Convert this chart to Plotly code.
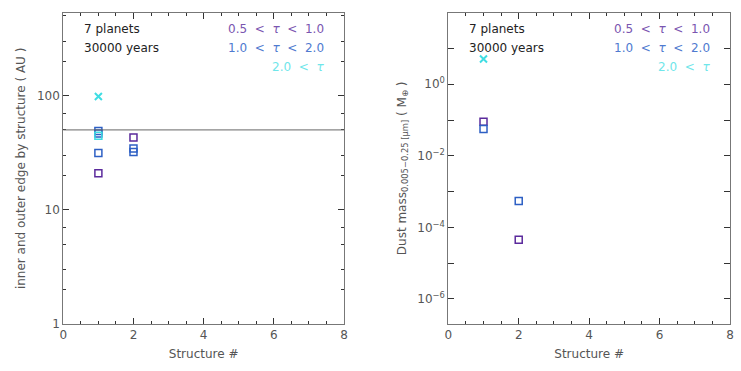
import plotly.graph_objects as go

# ---- data ----
structure_ids = [1, 2]
# left panel: inner/outer edge (AU) per structure, by tau class
edge_purple_x = [1, 2]
edge_purple_y = [20.9, 43.0]
edge_blue_x = [1, 1, 1, 2, 2]
edge_blue_y = [49.0, 46.5, 31.4, 34.3, 32.0]
edge_cyan_sq_x = [1]
edge_cyan_sq_y = [44.5]
edge_cyan_x_x = [1]
edge_cyan_x_y = [98.0]
ref_line_au = 50.0

# right panel: dust mass (M_earth)
mass_purple_x = [1, 2]
mass_purple_y = [0.089, 4.5e-5]
mass_blue_x = [1, 2]
mass_blue_y = [0.056, 5.5e-4]
mass_cyan_x_x = [1]
mass_cyan_x_y = [5.1]

info_lines = ["7 planets", "30000 years"]
S = "&nbsp;"
legend_labels = [f"0.5{S}{S}&lt;{S}{S}<i>τ</i>{S}{S}&lt;{S}{S}1.0",
                 f"1.0{S}{S}&lt;{S}{S}<i>τ</i>{S}{S}&lt;{S}{S}2.0",
                 f"2.0{S}{S}&lt;{S}{S}<i>τ</i>"]

purple = "#5b2a9c"
blue = "#2d5fc4"
cyan = "#3fdde3"
legend_colors = ["#7a55b0", "#4f7ad0", "#6fe6ea"]

FONT = "DejaVu Sans"
W, H = 741, 371
LX = (63.3 / W, 344 / W)
RX = (448.3 / W, 730 / W)
YD = (47 / H, 358.3 / H)

fig = go.Figure()

def sq(x, y, c, xa, ya):
    fig.add_trace(go.Scatter(x=x, y=y, mode="markers", xaxis=xa, yaxis=ya,
                             marker=dict(symbol="square-open", size=7, color=c,
                                         line=dict(width=1.5, color=c)),
                             showlegend=False))

def xm(x, y, c, xa, ya):
    fig.add_trace(go.Scatter(x=x, y=y, mode="markers", xaxis=xa, yaxis=ya,
                             marker=dict(symbol="x-thin-open", size=7, color=c,
                                         line=dict(width=2, color=c)),
                             showlegend=False))

sq(edge_purple_x, edge_purple_y, purple, "x", "y")
sq(edge_blue_x, edge_blue_y, blue, "x", "y")
sq(edge_cyan_sq_x, edge_cyan_sq_y, cyan, "x", "y")
xm(edge_cyan_x_x, edge_cyan_x_y, cyan, "x", "y")

sq(mass_purple_x, mass_purple_y, purple, "x2", "y2")
sq(mass_blue_x, mass_blue_y, blue, "x2", "y2")
xm(mass_cyan_x_x, mass_cyan_x_y, cyan, "x2", "y2")

fig.add_shape(type="line", xref="x domain", yref="y", x0=0, x1=1,
              y0=ref_line_au, y1=ref_line_au, line=dict(color="#666666", width=1))

axcol = "#777777"
tickfont = dict(family=FONT, size=12, color="#555555")

xcommon = dict(range=[0, 8], tickvals=[0, 2, 4, 6, 8], ticks="inside", ticklen=6,
               tickcolor="#333333", mirror="ticks", showline=True, linecolor=axcol,
               linewidth=1, showgrid=False, zeroline=False, tickfont=tickfont,
               automargin=False,
               minor=dict(tickvals=[0.5, 1, 1.5, 2.5, 3, 3.5, 4.5, 5, 5.5, 6.5, 7, 7.5],
                          ticks="inside", ticklen=3, tickcolor="#333333"),
               title=dict(text="Structure #", font=dict(family=FONT, size=12, color="#555555"),
                          standoff=8))

fig.update_layout(
    width=W, height=H, margin=dict(l=0, r=0, t=0, b=0, autoexpand=False),
    paper_bgcolor="white", plot_bgcolor="white",
    xaxis=dict(domain=LX, anchor="y", **xcommon),
    xaxis2=dict(domain=RX, anchor="y2", **xcommon),
    yaxis=dict(domain=YD, anchor="x", type="log", range=[0, 2.725],
               tickvals=[1, 10, 100], ticktext=["1", "10", "100"],
               ticks="inside", ticklen=6, tickcolor="#333333", mirror="ticks",
               showline=True, linecolor=axcol, showgrid=False, zeroline=False,
               tickfont=tickfont, automargin=False,
               minor=dict(tickvals=[2, 3, 5, 7, 20, 30, 50, 70, 200, 300, 500],
                          ticks="inside", ticklen=3, tickcolor="#333333"),
               title=dict(text="inner and outer edge by structure ( AU )",
                          font=dict(family=FONT, size=12, color="#555555"), standoff=8)),
    yaxis2=dict(domain=YD, anchor="x2", type="log", range=[-6.7, 2.0],
                tickvals=[1e-6, 1e-4, 1e-2, 1],
                ticktext=["10<sup>−6</sup>", "10<sup>−4</sup>", "10<sup>−2</sup>", "10<sup>0</sup>"],
                ticks="inside", ticklen=6, tickcolor="#333333", mirror="ticks",
                showline=True, linecolor=axcol, showgrid=False, zeroline=False,
                tickfont=tickfont, automargin=False,
                minor=dict(tickvals=[1e-5, 1e-3, 1e-1, 10],
                           ticks="inside", ticklen=6, tickcolor="#333333"),
                title=dict(text="Dust mass<sub>0.005−0.25 [μm]</sub> ( M<sub>⊕</sub> )",
                           font=dict(family=FONT, size=12, color="#555555"), standoff=8)),
)

ann = []
for dom, lx0 in [(LX, 82 / W), (RX, 467 / W)]:
    for i, t in enumerate(info_lines):
        ann.append(dict(x=lx0, y=1 - (29 + 19 * i) / H, xref="paper", yref="paper",
                        text=t, showarrow=False, xanchor="left", yanchor="middle",
                        font=dict(family=FONT, size=12, color="#222222")))
    rx = dom[1] - 18 / W
    for i, (t, c) in enumerate(zip(legend_labels, legend_colors)):
        ann.append(dict(x=rx, y=1 - (29 + 19 * i) / H, xref="paper", yref="paper",
                        text=t, showarrow=False, xanchor="right", yanchor="middle",
                        font=dict(family=FONT, size=12, color=c)))
fig.update_layout(annotations=ann)

fig.write_html("out.html", config={"displayModeBar": False},
               post_script="document.body.style.margin='0';document.body.style.overflow='hidden';")
